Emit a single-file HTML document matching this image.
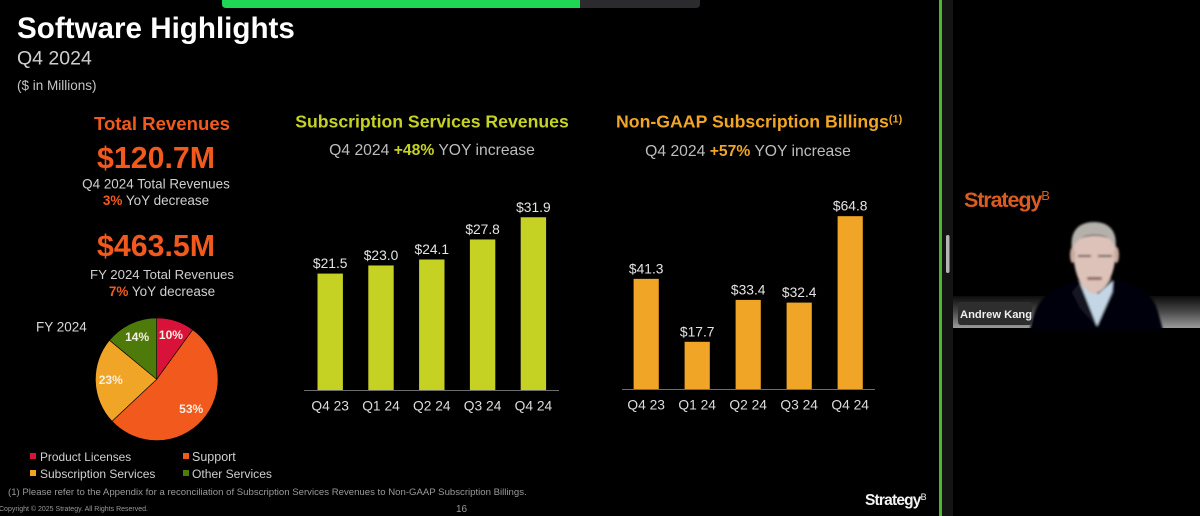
<!DOCTYPE html>
<html lang="en">
<head>
<meta charset="utf-8">
<title>Software Highlights Q4 2024</title>
<style>
html,body{margin:0;padding:0;background:#000;width:1200px;height:516px;overflow:hidden}
svg{display:block;filter:blur(0.35px)}
text{font-family:"Liberation Sans",Arial,sans-serif}
</style>
</head>
<body>
<svg id="stage" xmlns="http://www.w3.org/2000/svg" width="1200" height="516" viewBox="0 0 1200 516">
  <defs>
    <linearGradient id="band" x1="0" y1="0" x2="0" y2="1">
      <stop offset="0" stop-color="#0c0c0c"/>
      <stop offset="0.5" stop-color="#4a4a4a"/>
      <stop offset="1" stop-color="#9a9a9a"/>
    </linearGradient>
    <filter id="soft" x="-10%" y="-10%" width="120%" height="120%"><feGaussianBlur stdDeviation="1"/></filter>
  </defs>
  <rect width="1200" height="516" fill="#000"/>

  <g>
    <path d="M222 0H580V8H226Q222 8 222 4Z" fill="#1fd655"/>
    <path d="M580 0H700V4Q700 8 696 8H580Z" fill="#2b2b2d"/>
  </g>

  <g>
    <text x="17" y="38" font-size="29.6" font-weight="700" fill="#fff">Software Highlights</text>
    <text x="17" y="64.500" font-size="19.5" fill="#cfcfcf">Q4 2024</text>
    <text x="17" y="90" font-size="13.5" fill="#c4c4c4">($ in Millions)</text>
  </g>

  <g text-anchor="middle">
    <text x="162" y="130" font-size="18.600" font-weight="700" fill="#f25a1d">Total Revenues</text>
    <text x="156" y="168" font-size="30.300" font-weight="700" fill="#f25a1d">$120.7M</text>
    <text x="156" y="188.500" font-size="13.450" fill="#cfcfcf">Q4 2024 Total Revenues</text>
    <text x="156" y="205" font-size="13.500" fill="#cfcfcf"><tspan font-weight="700" fill="#f25a1d">3%</tspan> YoY decrease</text>
    <text x="156" y="256" font-size="30.300" font-weight="700" fill="#f25a1d">$463.5M</text>
    <text x="162" y="279" font-size="13.200" fill="#cfcfcf">FY 2024 Total Revenues</text>
    <text x="162" y="296" font-size="13.500" fill="#cfcfcf"><tspan font-weight="700" fill="#f25a1d">7%</tspan> YoY decrease</text>
  </g>

  <text x="36" y="331.500" font-size="13.500" fill="#d8d8d8">FY 2024</text>
  <g id="pie"></g>

  <g>
    <g><rect x="30" y="453" width="6" height="6" fill="#d9123a"/><text x="40" y="461" font-size="11.900" fill="#cfcfcf">Product Licenses</text></g>
    <g><rect x="183" y="453" width="6" height="6" fill="#f25a1d"/><text x="192" y="461" font-size="12.500" fill="#cfcfcf">Support</text></g>
    <g><rect x="30" y="470" width="6" height="6" fill="#f0a526"/><text x="40" y="478" font-size="12" fill="#cfcfcf">Subscription Services</text></g>
    <g><rect x="183" y="470" width="6" height="6" fill="#4e7a0c"/><text x="192" y="478" font-size="12.100" fill="#cfcfcf">Other Services</text></g>
  </g>

  <g text-anchor="middle">
    <text x="432" y="127.500" font-size="17.650" font-weight="700" fill="#c5d224">Subscription Services Revenues</text>
    <text x="432" y="155" font-size="15.700" fill="#bdbdbd">Q4 2024 <tspan font-weight="700" fill="#c5d224">+48%</tspan> YOY increase</text>
  </g>
  <g id="chart-a"></g>

  <g>
    <text x="616" y="127.500" font-size="17.700" font-weight="700" fill="#f0a526">Non-GAAP Subscription Billings<tspan font-size="11" dy="-5">(1)</tspan></text>
    <text x="748" y="156" text-anchor="middle" font-size="15.700" fill="#bdbdbd">Q4 2024 <tspan font-weight="700" fill="#f0a526">+57%</tspan> YOY increase</text>
  </g>
  <g id="chart-b"></g>

  <text x="8" y="495" font-size="9.600" fill="#9a9a9a">(1) Please refer to the Appendix for a reconciliation of Subscription Services Revenues to Non-GAAP Subscription Billings.</text>
  <text x="-1" y="511" font-size="7" fill="#999">Copyright © 2025 Strategy. All Rights Reserved.</text>
  <text x="456" y="512" font-size="10" fill="#999">16</text>
  <text x="865" y="505" font-size="15.500" font-weight="700" letter-spacing="-0.8" fill="#f2f2f2">Strategy<tspan font-size="9" font-weight="400" dy="-5">B</tspan></text>

  <g>
    <rect x="942" y="0" width="11" height="516" fill="#141414"/>
    <rect x="939" y="0" width="3" height="516" fill="#4db82a"/>
    <rect x="946" y="235" width="3.500" height="38" rx="1.700" fill="#b5b5b5"/>
  </g>

  <g>
    <rect x="953" y="296" width="247" height="32" fill="url(#band)"/>
    <text x="964" y="207" font-size="21.500" font-weight="700" letter-spacing="-1.100" fill="#dc5c1f">Strategy<tspan font-size="13" font-weight="400" dy="-7">B</tspan></text>
    <g filter="url(#soft)">
      <path d="M1030 330C1036 300 1046 290 1072 283L1088 278H1104L1118 280C1142 286 1154 296 1158 312L1163 330Z" fill="#060608"/>
      <path d="M1072 292L1079 284L1113 280L1115 292L1098 328L1080 308Z" fill="#121820"/>
      <path d="M1080 283L1097 326L1112 292L1113 281L1098 294Z" fill="#c4d6e6"/>
      <path d="M1073 246C1073 270 1079 290 1094 294C1109 290 1116 270 1116 246C1113 232 1077 232 1073 246Z" fill="#dcc2b8"/>
      <ellipse cx="1072.500" cy="255" rx="2.500" ry="8" fill="#c9aca0"/>
      <ellipse cx="1116.500" cy="255" rx="2.500" ry="8" fill="#c9aca0"/>
      <path d="M1072 250C1069 228 1082 222 1094 222C1108 222 1118 230 1115.500 249C1112 238 1106 235 1094 235C1084 235 1076 239 1072 250Z" fill="#b4b0ab"/>
      <path d="M1078 256H1091M1098 256H1112" stroke="#6a5650" stroke-width="2" fill="none"/>
      <rect x="1087" y="277" width="15" height="3" rx="1.500" fill="#8d665f"/>
    </g>
    <rect x="958" y="302" width="74" height="23" rx="3" fill="#2e2e2e"/>
    <text x="960" y="318" font-size="11.200" font-weight="700" fill="#f0f0f0">Andrew Kang</text>
  </g>
</svg>
<script>
var pieLabels = ['Product Licenses', 'Support', 'Subscription Services', 'Other Services'];
var pieValues = [10, 53, 23, 14];
var pieTexts = ['10%', '53%', '23%', '14%'];
var pieColors = ['#d9123a', '#f25a1d', '#f0a526', '#4e7a0c'];

var categories = ['Q4 23', 'Q1 24', 'Q2 24', 'Q3 24', 'Q4 24'];
var subscriptionValues = [21.5, 23.0, 24.1, 27.8, 31.9];
var billingsValues = [41.3, 17.7, 33.4, 32.4, 64.8];

var NS = 'http://www.w3.org/2000/svg';

function mk(parent, tag, attrs, txt) {
  var el = document.createElementNS(NS, tag);
  for (var k in attrs) el.setAttribute(k, attrs[k]);
  if (txt !== undefined) el.textContent = txt;
  parent.appendChild(el);
  return el;
}

function drawBars(id, values, cfg) {
  var g = document.getElementById(id);
  var xPos = function (i) { return cfg.x0 + cfg.step * i; };
  var yPos = function (v) { return cfg.base - v * cfg.scale; };
  values.forEach(function (v, i) {
    var top = yPos(v);
    var bar = mk(g, 'rect', {x: xPos(i) - cfg.w / 2, y: top, width: cfg.w, height: cfg.base - top, fill: cfg.color});
    
    
    var label = mk(g, 'text', {x: xPos(i), y: top - 5.5, 'text-anchor': 'middle', 'font-size': 13.8, fill: '#e4e4e4'}, '$' + v.toFixed(1));
    
    
    var tick = mk(g, 'text', {x: xPos(i), y: cfg.base + 20.7, 'text-anchor': 'middle', 'font-size': 13.8, fill: '#dcdcdc'}, categories[i]);
    
    
  });
  var axis = mk(g, 'line', {x1: cfg.ax0, x2: cfg.ax1, y1: cfg.base + 0.5, y2: cfg.base + 0.5, stroke: '#6e6e6e', 'stroke-width': 1});
  
  
}

drawBars('chart-a', subscriptionValues, {x0: 330.2, step: 50.8, w: 25.4, base: 390, scale: 5.415, color: '#c5d224', ax0: 304, ax1: 559});
drawBars('chart-b', billingsValues, {x0: 646.2, step: 51, w: 25.2, base: 389, scale: 2.667, color: '#f0a526', ax0: 622, ax1: 875});

(function drawPie() {
  var g = document.getElementById('pie');
  var cx = 156.7, cy = 379.3, r = 61.3;
  var total = pieValues.reduce(function (a, b) { return a + b; }, 0);
  var point = function (frac, rad) {
    var a = frac * 2 * Math.PI;
    return [cx + rad * Math.sin(a), cy - rad * Math.cos(a)];
  };
  var acc = 0;
  pieValues.forEach(function (v, i) {
    var start = acc / total;
    acc += v;
    var end = acc / total;
    var p0 = point(start, r), p1 = point(end, r);
    var large = end - start > 0.5 ? 1 : 0;
    var d = 'M' + cx + ' ' + cy + 'L' + p0[0] + ' ' + p0[1] + 'A' + r + ' ' + r + ' 0 ' + large + ' 1 ' + p1[0] + ' ' + p1[1] + 'Z';
    var slice = mk(g, 'path', {d: d, fill: pieColors[i], stroke: '#000', 'stroke-width': 0.6});
    
    
    mk(slice, 'title', {}, pieLabels[i]);
    var mid = point((start + end) / 2, r * 0.75);
    var label = mk(g, 'text', {x: mid[0], y: mid[1] + 3.5, 'text-anchor': 'middle', 'font-size': 12, 'font-weight': 700, fill: '#f6f0e4'}, pieTexts[i]);
    
    
  });
})();
</script>
</body>
</html>
